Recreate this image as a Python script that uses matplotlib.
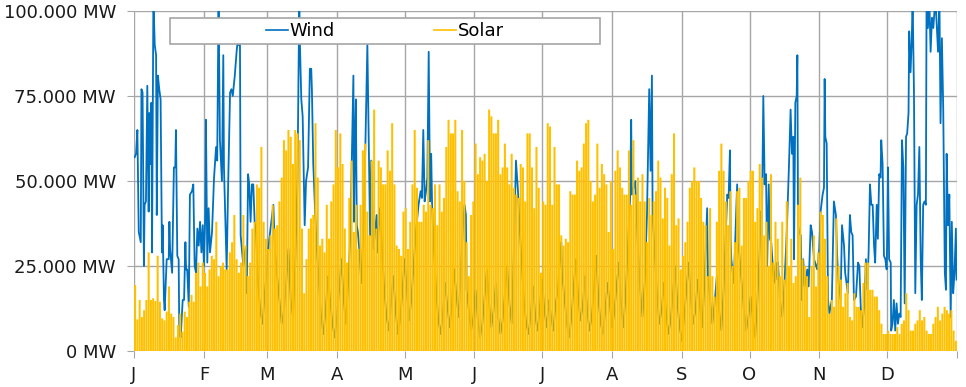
import matplotlib
matplotlib.use("Agg")
from matplotlib import pyplot as plt
from matplotlib.patches import Rectangle
from matplotlib.ticker import FuncFormatter

month_labels = ["J", "F", "M", "A", "M", "J", "J", "A", "S", "O", "N", "D"]
month_start = [0, 31, 59, 90, 120, 151, 181, 212, 243, 273, 304, 334, 365]

# daily solar peak, MW
solar_jan = [19400, 9300, 15000, 10000, 12000, 15000, 29000, 15000, 15500, 14700, 28000,
             14500, 9600, 9000, 11600, 19000, 11000, 10000, 4000, 7600, 11000, 5700,
             11600, 10000, 14500, 16500, 14500, 23000, 26000, 19000, 26000]
solar_feb = [23000, 19000, 24000, 28000, 27000, 38000, 22000, 25000, 26000, 24000, 24000,
             29000, 32000, 40000, 27000, 23000, 26000, 40000, 31000, 22000, 26000, 36000,
             38000, 49000, 48000, 60000, 38000, 33000]
solar_mar = [30000, 34000, 43000, 36000, 37000, 44000, 51000, 62000, 59000, 65000, 63000,
             55000, 65000, 64000, 62000, 36000, 17000, 27000, 36000, 39000, 40000, 67000,
             51000, 31000, 33000, 29000, 43000, 33000, 44000, 49000, 65000]
solar_apr = [54000, 64000, 55000, 36000, 26000, 45000, 56000, 35000, 43000, 30000, 43000,
             59000, 61000, 41000, 34000, 56000, 71000, 36000, 56000, 54000, 49000, 49000,
             59000, 53000, 67000, 49000, 31000, 30000, 28000, 41000]
solar_may = [42000, 30000, 38000, 49000, 65000, 48000, 38000, 38000, 43000, 41000, 62000,
             43000, 42000, 49000, 37000, 49000, 41000, 45000, 60000, 68000, 64000, 64000,
             68000, 47000, 44000, 65000, 50000, 32000, 22000, 40000, 44000]
solar_jun = [61000, 52000, 57000, 56000, 58000, 50000, 71000, 69000, 64000, 64000, 68000,
             52000, 54000, 61000, 54000, 49000, 58000, 48000, 46000, 45000, 55000, 54000,
             44000, 64000, 64000, 54000, 42000, 60000, 48000, 23000]
solar_jul = [44000, 43000, 67000, 66000, 43000, 60000, 49000, 49000, 34000, 31000, 33000,
             32000, 47000, 46000, 46000, 56000, 53000, 54000, 61000, 67000, 68000, 50000,
             44000, 46000, 61000, 48000, 55000, 52000, 49000, 35000, 50000]
solar_aug = [30000, 53000, 59000, 54000, 48000, 46000, 46000, 59000, 43000, 62000, 46000,
             51000, 44000, 52000, 44000, 32000, 45000, 40000, 44000, 47000, 56000, 51000,
             39000, 48000, 45000, 31000, 52000, 64000, 37000, 39000, 24000]
solar_sep = [28000, 32000, 38000, 48000, 50000, 54000, 50000, 50000, 45000, 38000, 37000,
             22000, 42000, 22000, 16000, 38000, 53000, 61000, 53000, 44000, 37000, 47000,
             25000, 32000, 47000, 48000, 31000, 45000, 45000, 50000]
solar_oct = [53000, 53000, 38000, 42000, 55000, 51000, 34000, 38000, 25000, 52000, 26000,
             38000, 33000, 22000, 38000, 21000, 44000, 25000, 33000, 20000, 22000, 43000,
             51000, 27000, 25000, 22000, 10000, 25000, 34000, 19000, 29000]
solar_nov = [41000, 40000, 33000, 22000, 11000, 15000, 13000, 39000, 25000, 21000, 13000,
             17000, 20000, 10000, 9000, 17000, 13000, 13000, 12000, 20000, 26000, 26000,
             18000, 18000, 16000, 16000, 12000, 8000, 5000, 5000]
solar_dec = [6000, 5000, 5000, 5000, 7000, 5000, 8000, 9000, 17000, 12000, 6000, 6000,
             8000, 9000, 12000, 9000, 10000, 6000, 5000, 5000, 8000, 10000, 13000, 9000,
             11000, 13000, 12000, 11000, 12000, 6000, 3000]

# wind (day of year, MW)
wind_jan = [(0.3, 57000), (0.9, 58000), (1.5, 65000), (2.1, 35000), (3.0, 32000), (3.3, 77000),
            (3.8, 76000), (4.4, 25000), (4.7, 43000), (5.3, 44000), (5.9, 78000), (6.5, 41000),
            (6.8, 70000), (7.4, 55000), (7.7, 73000), (8.0, 29000), (8.6, 104000), (9.2, 90000),
            (9.8, 87000), (10.1, 40000), (10.6, 81000), (11.2, 77000), (11.8, 74000), (12.4, 29000),
            (12.7, 37000), (13.3, 15000), (13.6, 12000), (14.5, 27000), (15.4, 27000), (15.7, 38000),
            (16.0, 30000), (16.9, 23000), (17.7, 54000), (18.3, 54000), (18.6, 65000), (19.2, 28000),
            (19.8, 27000), (20.1, 5000), (20.7, 4000), (21.6, 15000), (22.2, 15000), (22.8, 32000),
            (23.1, 24000), (23.6, 24000), (24.3, 13000), (24.8, 46000), (25.7, 47000), (26.3, 49000),
            (26.9, 25000), (27.5, 23000), (28.1, 36000), (28.7, 31000), (29.3, 38000), (29.9, 29000),
            (30.5, 37000)]
wind_feb = [(31.0, 25000), (31.6, 40000), (31.9, 68000), (32.5, 26000), (33.1, 42000), (33.7, 29000),
            (34.6, 35000), (35.5, 51000), (36.4, 60000), (36.9, 56000), (37.5, 104000), (38.1, 62000),
            (39.0, 50000), (39.6, 87000), (39.9, 54000), (41.1, 24000), (41.7, 47000), (42.6, 76000),
            (43.2, 77000), (43.8, 75000), (44.7, 81000), (45.5, 88000), (45.8, 90000), (47.0, 90000),
            (47.3, 34000), (48.5, 25000), (49.4, 30000), (50.0, 17000), (50.6, 52000), (51.1, 49000),
            (51.7, 38000), (52.3, 49000), (52.9, 49000), (53.5, 38000), (54.1, 35000), (55.0, 20000),
            (56.0, 12000), (57.0, 8000), (58.0, 17000)]
wind_mar = [(59.0, 25000), (60.0, 33000), (61.8, 43000), (62.5, 30000), (63.5, 22000), (64.5, 15000),
            (65.5, 8000), (66.5, 12000), (67.5, 20000), (68.5, 30000), (69.5, 15000), (70.5, 10000),
            (71.5, 25000), (72.5, 50000), (73.3, 104000), (73.6, 90000), (74.2, 74000), (74.8, 69000),
            (75.4, 48000), (75.7, 37000), (76.3, 50000), (77.2, 54000), (78.0, 83000), (78.6, 83000),
            (78.9, 77000), (79.5, 55000), (80.4, 40000), (81.0, 31000), (82.0, 20000), (83.0, 10000),
            (84.0, 5000), (85.0, 12000), (86.0, 22000), (87.0, 15000), (88.0, 8000), (89.0, 4000)]
wind_apr = [(90.0, 10000), (91.0, 18000), (92.0, 27000), (93.0, 15000), (94.0, 8000), (95.0, 20000),
            (96.0, 35000), (97.3, 81000), (97.6, 38000), (97.9, 58000), (98.4, 74000), (98.8, 37000),
            (99.3, 35000), (99.9, 30000), (100.8, 20000), (101.7, 35000), (102.6, 60000), (103.5, 90000),
            (104.1, 62000), (104.7, 34000), (105.2, 56000), (106.2, 30000), (107.6, 40000), (107.9, 29000),
            (109.1, 42000), (110.0, 30000), (111.0, 18000), (112.0, 10000), (113.0, 6000), (114.0, 14000),
            (115.0, 22000), (116.0, 12000), (117.0, 5000), (118.0, 9000), (119.0, 17000)]
wind_may = [(120.0, 27000), (121.0, 18000), (122.0, 9000), (123.0, 15000), (124.0, 25000), (125.0, 35000),
            (126.2, 43000), (127.1, 47000), (127.7, 45000), (128.3, 65000), (128.9, 44000), (129.5, 47000),
            (130.1, 51000), (130.7, 88000), (131.3, 44000), (131.8, 58000), (132.2, 43000), (133.0, 30000),
            (134.0, 18000), (135.0, 9000), (136.0, 5000), (137.0, 11000), (138.0, 20000), (139.0, 13000),
            (140.0, 7000), (141.0, 14000), (142.0, 24000), (143.0, 16000), (144.0, 10000), (145.0, 25000),
            (146.0, 38000), (146.6, 43000), (147.2, 40000), (147.5, 18000), (148.5, 12000), (149.5, 6000),
            (150.5, 10000)]
wind_jun = [(151.5, 18000), (152.5, 9000), (153.5, 4000), (154.5, 8000), (155.5, 16000), (156.5, 24000),
            (157.5, 14000), (158.5, 7000), (159.5, 12000), (160.5, 20000), (161.5, 10000), (162.5, 5000),
            (163.5, 9000), (164.5, 17000), (165.5, 25000), (166.5, 14000), (167.5, 8000), (168.5, 30000),
            (169.4, 56000), (170.3, 47000), (170.9, 38000), (172.0, 25000), (173.0, 14000), (174.0, 8000),
            (175.0, 5000), (176.0, 11000), (177.0, 19000), (178.0, 10000), (179.0, 6000), (180.0, 13000)]
wind_jul = [(181.0, 21000), (182.0, 12000), (183.0, 7000), (184.0, 15000), (185.0, 10000), (186.0, 6000),
            (187.0, 14000), (188.0, 18000), (188.6, 24000), (189.5, 32000), (189.8, 23000), (191.0, 15000),
            (192.0, 8000), (193.0, 4000), (194.0, 10000), (195.0, 19000), (196.0, 27000), (197.0, 16000),
            (198.0, 9000), (199.0, 13000), (200.0, 22000), (201.0, 12000), (202.0, 6000), (203.0, 10000),
            (204.0, 18000), (205.0, 28000), (206.0, 15000), (207.0, 8000), (208.0, 5000), (209.0, 12000),
            (210.0, 20000), (211.0, 14000)]
wind_aug = [(212.0, 7000), (213.0, 11000), (214.0, 19000), (215.0, 26000), (216.0, 14000), (217.0, 7000),
            (218.0, 16000), (219.0, 30000), (220.0, 45000), (220.5, 68000), (220.8, 46000), (222.3, 50000),
            (222.6, 44000), (223.5, 30000), (224.5, 18000), (225.5, 10000), (226.5, 20000), (227.5, 40000),
            (228.5, 77000), (229.1, 53000), (229.7, 81000), (230.0, 40000), (231.0, 28000), (232.0, 16000),
            (233.0, 8000), (234.0, 12000), (235.0, 20000), (236.0, 11000), (237.0, 5000), (238.0, 9000),
            (239.0, 17000), (240.0, 25000), (241.0, 14000), (242.0, 7000)]
wind_sep = [(243.0, 3000), (244.0, 10000), (245.0, 18000), (246.0, 26000), (247.0, 15000), (248.0, 8000),
            (249.0, 12000), (250.0, 21000), (251.0, 13000), (252.0, 7000), (253.0, 20000), (254.2, 42000),
            (254.5, 22000), (255.5, 15000), (256.5, 8000), (257.5, 14000), (258.5, 22000), (259.5, 12000),
            (260.5, 6000), (261.5, 18000), (262.5, 35000), (263.1, 46000), (263.7, 45000), (264.3, 59000),
            (264.6, 33000), (264.9, 27000), (266.0, 20000), (267.5, 49000), (267.8, 32000), (268.4, 29000),
            (269.5, 20000), (270.5, 12000), (271.5, 6000), (272.5, 10000)]
wind_oct = [(273.5, 16000), (274.5, 9000), (275.5, 4000), (276.5, 15000), (277.5, 30000), (277.9, 41000),
            (278.5, 39000), (279.1, 75000), (279.7, 49000), (280.3, 52000), (280.8, 25000), (281.5, 49000),
            (282.0, 33000), (282.6, 32000), (283.8, 20000), (284.7, 26000), (285.3, 21000), (285.6, 26000),
            (286.5, 15000), (287.5, 10000), (288.5, 20000), (289.5, 35000), (290.5, 55000), (291.2, 71000),
            (291.8, 58000), (292.4, 63000), (292.7, 27000), (293.3, 73000), (293.9, 75000), (294.2, 87000),
            (294.5, 37000), (295.0, 35000), (295.7, 34000), (296.2, 15000), (296.8, 27000), (297.4, 19000),
            (298.6, 24000), (299.2, 19000), (300.1, 37000), (300.7, 35000), (301.6, 27000), (303.0, 24000)]
wind_nov = [(303.9, 30000), (304.5, 41000), (305.4, 46000), (306.0, 48000), (306.3, 80000), (306.6, 63000),
            (307.2, 61000), (307.8, 15000), (308.4, 11000), (309.5, 15000), (310.4, 44000), (311.3, 40000),
            (311.9, 27000), (312.5, 20000), (313.4, 15000), (314.0, 37000), (314.9, 31000), (315.4, 23000),
            (316.6, 17000), (317.5, 40000), (318.1, 35000), (318.7, 34000), (319.3, 15000), (320.2, 16000),
            (321.1, 26000), (321.7, 25000), (322.3, 13000), (322.9, 7000), (324.0, 14000), (324.6, 27000),
            (325.2, 18000), (325.8, 29000), (326.4, 49000), (327.0, 43000), (327.6, 43000), (328.2, 31000),
            (328.7, 26000), (329.4, 43000), (329.9, 33000), (330.5, 52000), (331.1, 51000), (331.4, 62000),
            (332.0, 55000), (332.6, 28000), (333.2, 27000)]
wind_dec = [(333.8, 24000), (334.1, 36000), (334.4, 54000), (334.9, 27000), (335.6, 26000), (335.8, 6000),
            (336.4, 8000), (337.0, 15000), (337.6, 6000), (338.2, 14000), (338.8, 8000), (339.4, 11000),
            (340.0, 10000), (340.6, 62000), (341.2, 54000), (341.8, 14000), (342.4, 63000), (342.9, 64000),
            (343.5, 70000), (343.8, 94000), (344.4, 82000), (345.0, 93000), (345.3, 104000), (345.9, 77000),
            (346.2, 45000), (346.5, 17000), (347.1, 43000), (347.7, 46000), (348.3, 60000), (348.9, 27000),
            (349.4, 15000), (350.0, 43000), (350.6, 44000), (351.2, 43000), (351.5, 104000), (352.1, 95000),
            (352.7, 104000), (353.3, 88000), (353.9, 98000), (354.5, 95000), (355.4, 104000), (356.6, 88000),
            (357.2, 104000), (357.7, 67000), (358.3, 92000), (358.9, 71000), (359.6, 23000), (360.1, 18000),
            (360.4, 58000), (361.0, 37000), (361.6, 46000), (362.2, 10000), (362.7, 38000), (363.3, 17000),
            (363.9, 23000), (364.5, 36000), (364.8, 21000)]

solar_mw = (solar_jan + solar_feb + solar_mar + solar_apr + solar_may + solar_jun +
            solar_jul + solar_aug + solar_sep + solar_oct + solar_nov + solar_dec)
wind = (wind_jan + wind_feb + wind_mar + wind_apr + wind_may + wind_jun +
        wind_jul + wind_aug + wind_sep + wind_oct + wind_nov + wind_dec)
wind_day = [d for d, v in wind]
wind_mw = [v for d, v in wind]

plt.rcParams['font.family'] = ['DejaVu Sans']
fig = plt.figure(figsize=(9.66, 3.87), dpi=100)
ax = fig.add_axes([134 / 966, 36 / 387, 823 / 966, 340 / 387])

ax.plot(wind_day, wind_mw, color="#0070C0", lw=1.3, zorder=2, label="Wind")
solar_x = [i + 0.5 for i in range(len(solar_mw))]
bars = ax.bar(solar_x, solar_mw, width=0.9, color="#FFC000", lw=0, zorder=3)
for b in bars:
    b.set_snap(False)

ax.set_xlim(0, 365)
ax.set_ylim(0, 100000)
ax.set_xticks(month_start)
ax.set_xticklabels(month_labels + [""])
ax.set_yticks([0, 25000, 50000, 75000, 100000])
ax.yaxis.set_major_formatter(FuncFormatter(lambda v, p: f"{int(v):,}".replace(",", ".") + " MW"))
ax.set_axisbelow(True)
ax.grid(True, color="#A6A6A6", lw=1)
for s in ax.spines.values():
    s.set_visible(False)
ax.tick_params(axis="both", length=5, color="#A6A6A6", labelsize=13, labelcolor="#1a1a1a")
ax.tick_params(axis="y", pad=8)
ax.tick_params(axis="x", pad=6)

# legend box
ax.add_patch(Rectangle((0.044, 0.903), 0.522, 0.076, transform=ax.transAxes,
                       facecolor="white", edgecolor="#A6A6A6", lw=1.2, zorder=5))
h_wind = plt.Line2D([], [], color="#0070C0", lw=1.2)
h_solar = plt.Line2D([], [], color="#FFC000", lw=1.2)
leg = ax.legend([h_wind, h_solar], ["Wind", "Solar"], ncol=2, loc="center",
                bbox_to_anchor=(0.305, 0.941), frameon=False, fontsize=13,
                handlelength=1.2, handletextpad=0.1, columnspacing=5.5,
                borderaxespad=0, borderpad=0)
leg.set_zorder(6)

fig.savefig("out.png", dpi=100)
